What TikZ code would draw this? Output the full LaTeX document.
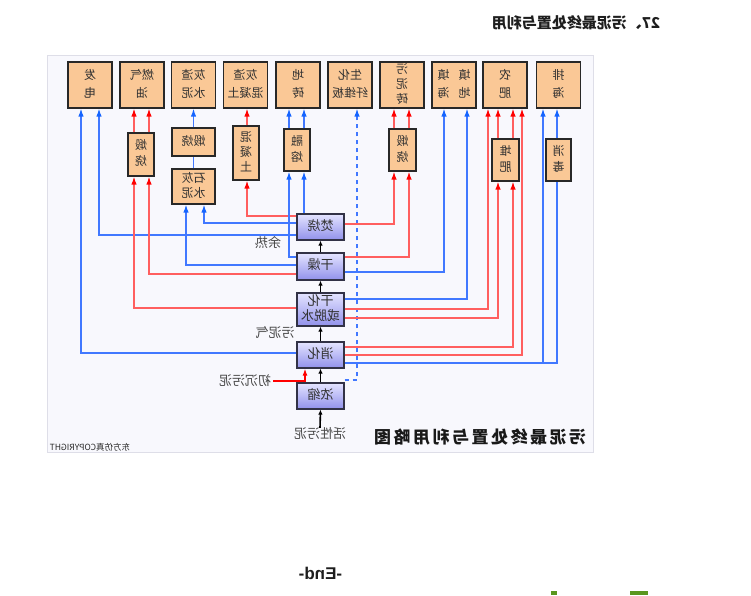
\documentclass[tikz,border=0pt]{standalone}
\usepackage{fontspec}
\usepackage{graphicx}
\usetikzlibrary{arrows.meta}
\setmainfont{Liberation Sans}
\newfontfamily\cjk{Noto Sans CJK SC}
\newcommand{\mt}[1]{\reflectbox{\begin{tabular}{@{}c@{}}#1\end{tabular}}}
\definecolor{peach}{RGB}{250,200,150}
\definecolor{rline}{RGB}{255,95,95}
\definecolor{rhead}{RGB}{255,0,0}
\definecolor{bline}{RGB}{65,120,255}
\definecolor{bhead}{RGB}{20,100,255}
\definecolor{panel}{RGB}{248,248,253}
\definecolor{pborder}{RGB}{222,222,232}
\definecolor{boxtext}{RGB}{50,50,50}
\definecolor{ptop}{RGB}{228,228,255}
\definecolor{pbot}{RGB}{145,145,235}
\definecolor{lbltext}{RGB}{70,70,70}
\definecolor{grn}{RGB}{90,150,30}
\begin{document}
\begin{tikzpicture}[x=1pt,y=-1pt,
  obox/.style={draw={rgb,255:red,40;green,40;blue,40}, line width=1.2pt, fill=peach, inner sep=0pt, text=boxtext, font=\cjk\fontsize{12}{18}\selectfont},
  topbox/.style={obox, minimum width=44pt, minimum height=46pt},
  pbox/.style={draw={rgb,255:red,50;green,50;blue,70}, line width=1.3pt, top color=ptop, bottom color=pbot, inner sep=0pt, minimum width=47pt, text=boxtext, font=\cjk\fontsize{13}{14}\selectfont},
  rl/.style={draw=rline, line width=1.3pt, -{Latex[length=8pt,width=5.5pt,color=rhead]}},
  bl/.style={draw=bline, line width=1.3pt, -{Latex[length=8pt,width=5.5pt,color=bhead]}},
  blp/.style={draw=bline, line width=1.3pt},
  ka/.style={draw=black, line width=1.6pt, -{Latex[length=5pt,width=4.5pt]}},
  lbl/.style={text=lbltext, font=\cjk\fontsize{13}{15}\selectfont, inner sep=0pt}
]
\useasboundingbox (0,0) rectangle (751,595);
\fill[white] (0,0) rectangle (751,595);
% header
\node[font=\cjk\bfseries\fontsize{15}{17}\selectfont, text={rgb,255:red,30;green,30;blue,30}, inner sep=0pt] (hdr) at (576,23) {\reflectbox{27、污泥最终处置与利用}};
% panel
\draw[draw=pborder, fill=panel, line width=0.8pt] (47,55) rectangle (593,452);
% top row
\node[topbox] (t1) at (90,85) {\mt{发\\电}};
\node[topbox] (t2) at (142,85) {\mt{燃气\\油}};
\node[topbox] (t3) at (193.5,85) {\mt{灰渣\\水泥}};
\node[topbox] (t4) at (245.5,85) {\mt{灰渣\\混凝土}};
\node[topbox] (t5) at (298,85) {\mt{地\\砖}};
\node[topbox] (t6) at (350,85) {\mt{生化\\纤维板}};
\node[topbox, font=\cjk\fontsize{12}{15}\selectfont] (t7) at (402,85) {\mt{污\\泥\\砖}};
\node[topbox] (t8) at (454,85) {\mt{填\hspace{9pt}填\\地\hspace{9pt}海}};
\node[topbox] (t9) at (505,85) {\mt{农\\肥}};
\node[topbox] (t10) at (558.5,85) {\mt{排\\海}};
% second row
\node[obox, font=\cjk\fontsize{12}{16}\selectfont, minimum width=26pt, minimum height=43pt] (s2) at (141,154.5) {\mt{煅\\烧}};
\node[obox, minimum width=43pt, minimum height=28pt] (s3a) at (193.5,142) {\mt{煅烧}};
\node[obox, font=\cjk\fontsize{12}{15}\selectfont, minimum width=43pt, minimum height=35pt] (s3b) at (193.5,186.5) {\mt{石灰\\水泥}};
\node[obox, font=\cjk\fontsize{12}{15}\selectfont, minimum width=26pt, minimum height=54pt] (s4) at (246,153) {\mt{混\\凝\\土}};
\node[obox, font=\cjk\fontsize{12}{16}\selectfont, minimum width=26pt, minimum height=42pt] (s5) at (297,150) {\mt{融\\熔}};
\node[obox, font=\cjk\fontsize{12}{16}\selectfont, minimum width=27pt, minimum height=42pt] (s7) at (402.5,150) {\mt{煅\\烧}};
\node[obox, font=\cjk\fontsize{12}{16}\selectfont, minimum width=27pt, minimum height=42pt] (s9) at (505.5,160) {\mt{堆\\肥}};
\node[obox, font=\cjk\fontsize{12}{16}\selectfont, minimum width=25pt, minimum height=42pt] (s10) at (558.5,160) {\mt{消\\毒}};
% process column
\node[pbox, minimum height=26pt] (p1) at (320.5,227) {\mt{焚烧}};
\node[pbox, minimum height=27pt] (p2) at (320.5,266.5) {\mt{干燥}};
\node[pbox, minimum height=33pt] (p3) at (320.5,309.5) {\mt{干化\\或脱水}};
\node[pbox, minimum height=26pt] (p4) at (320.5,355) {\mt{消化}};
\node[pbox, minimum height=26pt] (p5) at (320.5,396) {\mt{浓缩}};
% labels
\node[lbl] (l1) at (268,243) {\reflectbox{余热}};
\node[lbl] (l2) at (275,333) {\reflectbox{污泥气}};
\node[lbl] (l3) at (245,381) {\reflectbox{初沉污泥}};
\node[lbl] (l4) at (320,434) {\reflectbox{活性污泥}};
\node[inner sep=0pt, text={rgb,255:red,25;green,25;blue,25}, font=\cjk\bfseries\fontsize{17}{19}\selectfont] (ttl) at (480,437) {\reflectbox{污\hspace{2.5pt}泥\hspace{2.5pt}最\hspace{2.5pt}终\hspace{2.5pt}处\hspace{2.5pt}置\hspace{2.5pt}与\hspace{2.5pt}利\hspace{2.5pt}用\hspace{2.5pt}略\hspace{2.5pt}图}};
\node[inner sep=0pt, text={rgb,255:red,40;green,40;blue,40}, font=\cjk\fontsize{8.5}{9}\selectfont] (cpy) at (90,447) {\reflectbox{东方仿真COPYRIGHT}};
\node[inner sep=0pt, font=\bfseries\fontsize{17}{19}\selectfont, text={rgb,255:red,30;green,30;blue,30}] (end) at (320.5,573) {\reflectbox{-End-}};
\fill[grn] (551,591) rectangle (557,595);
\fill[grn] (630,591) rectangle (648,595);
% process chain
\draw[ka] (l4.north) -- (p5.south);
\draw[ka] (p5.north) -- (p4.south);
\draw[ka] (p4.north) -- (p3.south);
\draw[ka] (p3.north) -- (p2.south);
\draw[ka] (p2.north) -- (p1.south);
\draw[draw=rhead, line width=1.2pt, -{Latex[length=7pt,width=5pt]}] ([xshift=2pt]l3.east) -| (p4.south -| 305,0);
% left side
\draw[bl] (p4.west |- 0,353) -| (t1.south -| 81,0);
\draw[bl] (p1.west |- 0,235) -| (t1.south -| 99,0);
\draw[rl] (p3.west |- 0,308) -| (s2.south -| 134,0);
\draw[rl] (p2.west |- 0,274) -| (s2.south -| 149,0);
\draw[rl] (s2.north -| 134,0) -- (t2.south -| 134,0);
\draw[rl] (s2.north -| 149,0) -- (t2.south -| 149,0);
\draw[bl] (p2.west |- 0,265) -| (s3b.south -| 186,0);
\draw[bl] (p1.west |- 0,223) -| (s3b.south -| 204,0);
\draw[blp] (s3b.north) -- (s3a.south);
\draw[bl] (s3a.north) -- (t3.south);
\draw[rl] (p1.west |- 0,216) -| (s4.south -| 247,0);
\draw[rl] (s4.north -| 247,0) -- (t4.south -| 247,0);
\draw[bl] (p2.west |- 0,257) -| (s5.south -| 289,0);
\draw[bl] (p1.north -| 304,0) -- (s5.south -| 304,0);
\draw[bl] (s5.north -| 289,0) -- (t5.south -| 289,0);
\draw[bl] (s5.north -| 304,0) -- (t5.south -| 304,0);
% right side
\draw[bl, dash pattern=on 4pt off 4pt] (p5.east |- 0,380) -| (t6.south -| 357,0);
\draw[rl] (p1.east |- 0,224) -| (s7.south -| 394,0);
\draw[rl] (p2.east |- 0,257) -| (s7.south -| 409,0);
\draw[rl] (s7.north -| 394,0) -- (t7.south -| 394,0);
\draw[rl] (s7.north -| 409,0) -- (t7.south -| 409,0);
\draw[bl] (p2.east |- 0,272) -| (t8.south -| 444,0);
\draw[bl] (p3.east |- 0,299) -| (t8.south -| 467,0);
\draw[rl] (p3.east |- 0,309) -| (t9.south -| 488,0);
\draw[rl] (p3.east |- 0,318) -| (s9.south -| 498,0);
\draw[rl] (p4.east |- 0,347) -| (s9.south -| 513,0);
\draw[rl] (p4.east |- 0,355) -| (t9.south -| 522,0);
\draw[rl] (s9.north -| 498,0) -- (t9.south -| 498,0);
\draw[rl] (s9.north -| 513,0) -- (t9.south -| 513,0);
\draw[blp] (p4.east |- 0,363) -| (s10.south -| 557,0);
\coordinate (br) at (543,363);
\draw[bl] (br) -- (t10.south -| 543,0);
\draw[bl] (s10.north -| 557,0) -- (t10.south -| 557,0);
\end{tikzpicture}
\end{document}
